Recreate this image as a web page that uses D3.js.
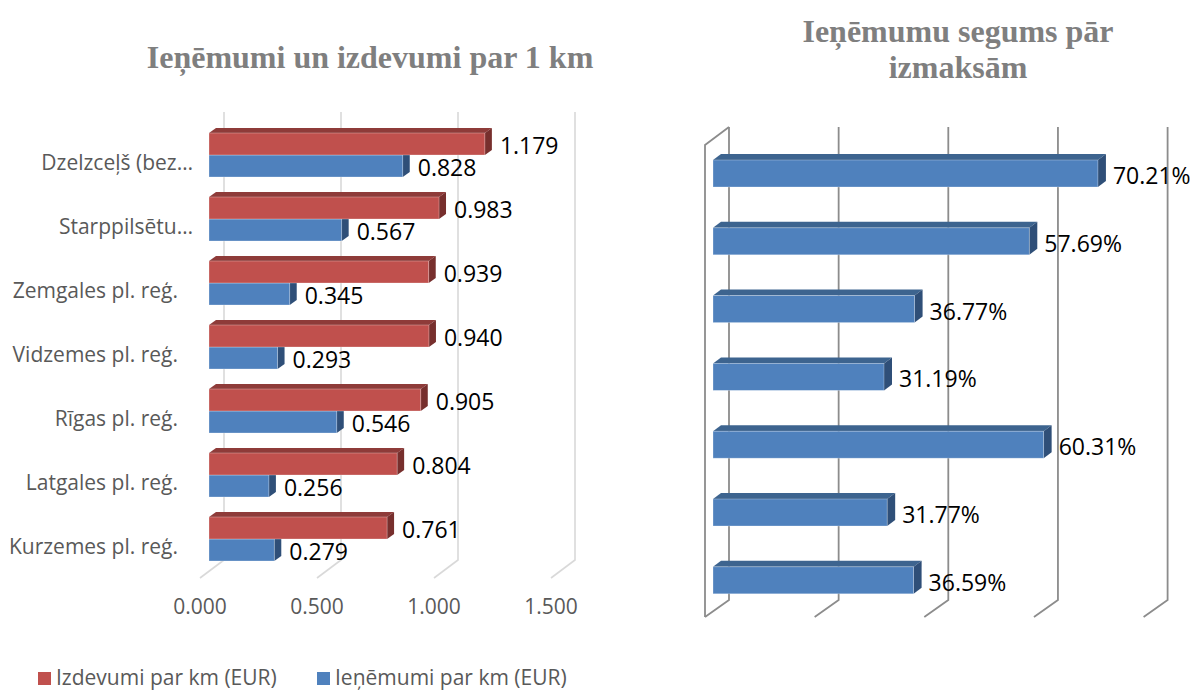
<!DOCTYPE html>
<html>
<head>
<meta charset="utf-8">
<script src="https://cdn.jsdelivr.net/npm/d3@7"></script>
<style>
  body { margin: 0; background: #fff; }
  svg { display: block; }
  .title { font-family: "Liberation Serif", "DejaVu Serif", serif; font-weight: bold; fill: #7f7f7f; }
  .lbl { font-family: "Open Sans", sans-serif; }
</style>
</head>
<body>
<svg id="chart" width="1195" height="692"></svg>
<script>
const categories = ['Dzelzceļš (bez…', 'Starppilsētu…', 'Zemgales pl. reģ.', 'Vidzemes pl. reģ.', 'Rīgas pl. reģ.', 'Latgales pl. reģ.', 'Kurzemes pl. reģ.'];
const izdevumi = [1.179, 0.983, 0.939, 0.940, 0.905, 0.804, 0.761];
const ienemumi = [0.828, 0.567, 0.345, 0.293, 0.546, 0.256, 0.279];
const segums = [70.21, 57.69, 36.77, 31.19, 60.31, 31.77, 36.59];
const leftTicks = [0, 0.5, 1.0, 1.5];
const rightTicks = [0, 20, 40, 60, 80];
const seriesNames = ['Izdevumi par km (EUR)', 'Ieņēmumi par km (EUR)'];

const svg = d3.select('#chart');

const red = { front: '#c0504d', top: '#8e3b39', side: '#772f2d' };
const blue = { front: '#4f81bd', top: '#3d648f', side: '#2f4f78' };

// 3d bar: front face + top + right side
function bar3d(g, x0, x1, y, h, dx, dy, c) {
    g.append('polygon')
        .attr('points', [[x0, y], [x0 + dx, y - dy], [x1 + dx, y - dy], [x1, y]].join(' '))
        .attr('fill', c.top);
    g.append('polygon')
        .attr('points', [[x1, y], [x1 + dx, y - dy], [x1 + dx, y + h - dy], [x1, y + h]].join(' '))
        .attr('fill', c.side);
    g.append('rect')
        .attr('x', x0).attr('y', y)
        .attr('width', x1 - x0).attr('height', h)
        .attr('fill', c.front)
        .attr('stroke', '#ffffff').attr('stroke-opacity', 0.35).attr('stroke-width', 0.8);
}

// ---------- left chart ----------
let xL = d3.scaleLinear().domain([0, 1.5]).range([209, 560]);
let yL = d3.scaleBand().domain(categories).range([122, 570]);

svg.append('text')
    .attr('class', 'title')
    .attr('x', 370).attr('y', 68)
    .attr('text-anchor', 'middle')
    .style('font-size', '32px')
    .text('Ieņēmumi un izdevumi par 1 km');

let gridL = svg.append('g');
leftTicks.forEach(t => {
    let xb = xL(t) + 15;
    gridL.append('path')
        .attr('d', `M${xb},112 L${xb},560 L${xb - 24},578`)
        .attr('fill', 'none')
        .attr('stroke', '#d9d9d9')
        .attr('stroke-width', 1.6);
});

svg.append('g')
    .selectAll('text')
    .data(leftTicks)
    .enter()
    .append('text')
    .attr('class', 'lbl')
    .attr('x', d => xL(d) - 9)
    .attr('y', 607)
    .attr('dy', '0.35em')
    .attr('text-anchor', 'middle')
    .style('font-size', '21px')
    .style('fill', '#595959')
    .text(d => d3.format('.3f')(d));

// truncated names run a bit further right, like in the original
svg.append('g')
    .selectAll('text')
    .data(categories)
    .enter()
    .append('text')
    .attr('class', 'lbl')
    .attr('x', d => d.endsWith('…') ? 193 : 178)
    .attr('y', d => yL(d) + 41)
    .attr('dy', '0.35em')
    .attr('text-anchor', 'end')
    .style('font-size', '21px')
    .style('fill', '#595959')
    .text(d => d);

let barsL = svg.append('g');
categories.forEach((c, i) => {
    let y = yL(c);
    bar3d(barsL, xL(0), xL(ienemumi[i]), y + 33, 22, 7, 5, blue);
    bar3d(barsL, xL(0), xL(izdevumi[i]), y + 11, 22, 7, 5, red);
});

let valsL = svg.append('g');
categories.forEach((c, i) => {
    let y = yL(c);
    valsL.append('text')
        .attr('class', 'lbl')
        .attr('x', xL(izdevumi[i]) + 15)
        .attr('y', y + 24)
        .attr('dy', '0.35em')
        .style('font-size', '23px')
        .style('fill', '#000')
        .text(d3.format('.3f')(izdevumi[i]));
    valsL.append('text')
        .attr('class', 'lbl')
        .attr('x', xL(ienemumi[i]) + 15)
        .attr('y', y + 46)
        .attr('dy', '0.35em')
        .style('font-size', '23px')
        .style('fill', '#000')
        .text(d3.format('.3f')(ienemumi[i]));
});

// legend
let legend = svg.append('g');
[[38, red.front], [317, blue.front]].forEach((d, i) => {
    legend.append('rect')
        .attr('x', d[0]).attr('y', 672)
        .attr('width', 13).attr('height', 13)
        .attr('fill', d[1]);
    legend.append('text')
        .attr('class', 'lbl')
        .attr('x', d[0] + 18).attr('y', 678)
        .attr('dy', '0.35em')
        .style('font-size', '21px')
        .style('fill', '#595959')
        .text(seriesNames[i]);
});

// ---------- right chart ----------
let xR = d3.scaleLinear().domain([0, 80]).range([713, 1151.6]);
let yR = d3.scaleBand().domain(categories).range([150, 624.6]);

let titleR = svg.append('text')
    .attr('class', 'title')
    .attr('text-anchor', 'middle')
    .style('font-size', '32px');
titleR.append('tspan').attr('x', 958).attr('y', 42).text('Ieņēmumu segums pār');
titleR.append('tspan').attr('x', 958).attr('y', 78).text('izmaksām');

let gridR = svg.append('g');
gridR.append('path')
    .attr('d', 'M729,127 L705,145 L705,617')
    .attr('fill', 'none')
    .attr('stroke', '#8c8c8c')
    .attr('stroke-width', 1.8);
rightTicks.forEach(t => {
    let xb = xR(t) + 16;
    gridR.append('path')
        .attr('d', `M${xb},127 L${xb},600 L${xb - 24},617`)
        .attr('fill', 'none')
        .attr('stroke', '#8c8c8c')
        .attr('stroke-width', 1.8);
});

let barsR = svg.append('g');
categories.forEach((c, i) => {
    bar3d(barsR, xR(0), xR(segums[i]), yR(c) + 10, 27, 8, 6, blue);
    barsR.append('text')
        .attr('class', 'lbl')
        .attr('x', xR(segums[i]) + 15)
        .attr('y', yR(c) + 26)
        .attr('dy', '0.35em')
        .style('font-size', '23px')
        .style('fill', '#000')
        .text(d3.format('.2f')(segums[i]) + '%');
});
</script>
</body>
</html>
